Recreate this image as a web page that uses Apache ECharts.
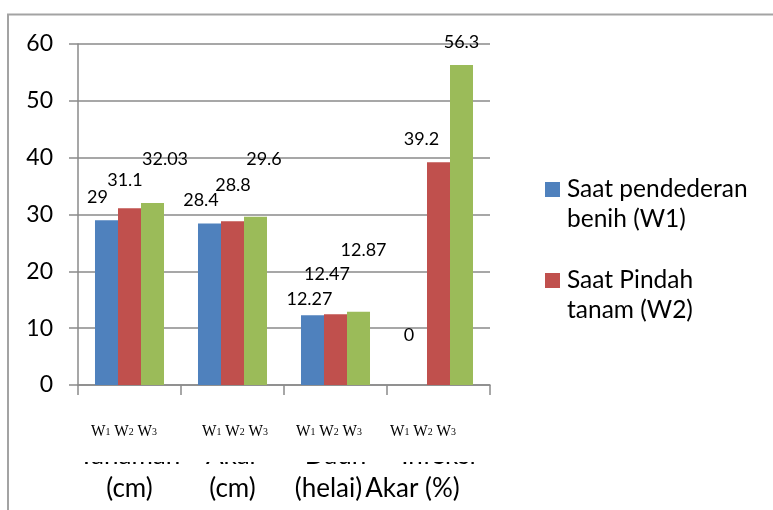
<!DOCTYPE html>
<html>
<head>
<meta charset="utf-8">
<script src="https://cdn.jsdelivr.net/npm/echarts@6/dist/echarts.min.js"></script>
<style>
  html, body { margin: 0; padding: 0; background: #fff; }
  #chart { width: 773px; height: 510px; }
</style>
</head>
<body>
<div id="chart"></div>
<script>
// Category labels (two lines each)
const categories = ['Tanaman\n(cm)', 'Akar\n(cm)', 'Daun\n(helai)', 'Infeksi\nAkar (%)'];

// Series names
const nameW1 = 'Saat pendederan\nbenih (W1)';
const nameW2 = 'Saat Pindah\ntanam (W2)';
const nameW3 = 'W3';

// Values per series
const valuesW1 = [29, 28.4, 12.27, 0];
const valuesW2 = [31.1, 28.8, 12.47, 39.2];
const valuesW3 = [32.03, 29.6, 12.87, 56.3];

// Value axis ticks
const yTicks = [0, 10, 20, 30, 40, 50, 60];

// Sub-group caption under every category
const groupCaption = ['W', '1', 'W', '2', 'W', '3'];

// Hand-placed label nudges [dx, dy] per series and category
const labelShiftW1 = [[-9, -14], [-8.5, -14.5], [-3, -7], [-6.5, -41]];
const labelShiftW2 = [[-4.5, -19], [0.5, -27], [-8.5, -30.5], [-17, -14]];
const labelShiftW3 = [[12.5, -35], [8.5, -49], [5, -53], [0, -13.5]];

const FONT = 'Lato, "Open Sans", sans-serif';
const SERIF = '"Liberation Serif", "Times New Roman", serif';
const GRID_COLOR = '#8a8a8a';

const chart = echarts.init(document.getElementById('chart'), null, { renderer: 'canvas' });

function barSeries(name, values, shifts, color) {
  return {
    name: name,
    type: 'bar',
    barGap: '0%',
    barCategoryGap: '33%',
    itemStyle: { color: color },
    label: {
      show: true,
      position: 'top',
      distance: 0,
      color: '#000',
      fontFamily: FONT,
      fontSize: 18,
      lineHeight: 18
    },
    data: values.map((v, i) => ({ value: v, label: { offset: shifts[i] } }))
  };
}

const axisFont = { fontFamily: FONT, fontSize: 26, lineHeight: 33, color: '#000' };
const bottomRich = {
  top: Object.assign({}, axisFont),
  bot0: Object.assign({}, axisFont),
  bot1: Object.assign({}, axisFont),
  bot2: Object.assign({ padding: [0, 14, 0, 0] }, axisFont),
  bot3: Object.assign({ padding: [0, 52, 0, 0] }, axisFont)
};

const legendFont = { fontFamily: FONT, fontSize: 24.5, lineHeight: 30, color: '#000' };

chart.setOption({
  animation: false,
  backgroundColor: '#fff',
  grid: { left: 78, right: 283, top: 44, bottom: 125, containLabel: false },
  legend: {
    data: [nameW1, nameW2],
    orient: 'vertical',
    left: 545,
    top: 147,
    padding: 0,
    itemGap: 6,
    itemWidth: 15,
    itemHeight: 15,
    icon: 'rect',
    // an empty leading line keeps the swatch level with the first text line
    formatter: (name) => '{gap| }\n{t|' + name.split('\n').join('}\n{t|') + '}',
    textStyle: {
      rich: {
        gap: legendFont,
        t: Object.assign({ padding: [0, 0, 0, 2] }, legendFont)
      }
    }
  },
  xAxis: {
    type: 'category',
    data: categories,
    boundaryGap: true,
    axisLine: { lineStyle: { color: GRID_COLOR, width: 1.5 } },
    axisTick: { show: true, length: 10, lineStyle: { color: GRID_COLOR, width: 1.5 } },
    axisLabel: {
      margin: 54,
      interval: 0,
      formatter: (val, idx) => {
        const parts = val.split('\n');
        return '{top|' + parts[0] + '}\n{bot' + idx + '|' + parts[1] + '}';
      },
      rich: bottomRich
    }
  },
  yAxis: {
    type: 'value',
    min: yTicks[0],
    max: yTicks[yTicks.length - 1],
    interval: yTicks[1] - yTicks[0],
    axisLine: { show: true, lineStyle: { color: GRID_COLOR, width: 1.5 } },
    axisTick: { show: true, length: 9, lineStyle: { color: GRID_COLOR, width: 1.5 } },
    axisLabel: { margin: 25, fontFamily: FONT, fontSize: 23, color: '#000' },
    splitLine: { lineStyle: { color: GRID_COLOR, width: 1.5 } }
  },
  series: [
    barSeries(nameW1, valuesW1, labelShiftW1, '#4f81bd'),
    barSeries(nameW2, valuesW2, labelShiftW2, '#c0504d'),
    barSeries(nameW3, valuesW3, labelShiftW3, '#9bbb59')
  ]
});

// Caption text "W1 W2 W3" with subscripts, placed under each category
const captionText = '{w|' + groupCaption[0] + '}{s|' + groupCaption[1] + '}{w| ' +
  groupCaption[2] + '}{s|' + groupCaption[3] + '}{w| ' + groupCaption[4] + '}{s|' + groupCaption[5] + '}';
const captionShift = [-5.5, 2.5, -6.5, -15.5];

const captions = categories.map((c, i) => {
  const cx = chart.convertToPixel({ xAxisIndex: 0 }, i) + captionShift[i];
  return {
    type: 'text',
    z: 20,
    x: cx,
    y: 432,
    scaleX: 0.9,
    style: {
      text: captionText,
      x: 0,
      y: 0,
      align: 'center',
      verticalAlign: 'middle',
      fill: '#000',
      rich: {
        w: { fontFamily: SERIF, fontSize: 17, lineHeight: 17, verticalAlign: 'top' },
        s: { fontFamily: SERIF, fontSize: 11, lineHeight: 16, padding: [3, 0, 0, 0], verticalAlign: 'top' }
      }
    }
  };
});

chart.setOption({
  graphic: [
    // outer frame (top and left edges)
    {
      type: 'polyline',
      z: 5,
      shape: { points: [[8, 510], [8, 14.5], [773, 14.5]] },
      style: { stroke: '#a3a3a3', lineWidth: 2, fill: null }
    },
    // white box partially hiding the first label line
    {
      type: 'rect',
      z: 10,
      shape: { x: 60, y: 396, width: 450, height: 66 },
      style: { fill: '#fff' }
    }
  ].concat(captions)
});
</script>
</body>
</html>
